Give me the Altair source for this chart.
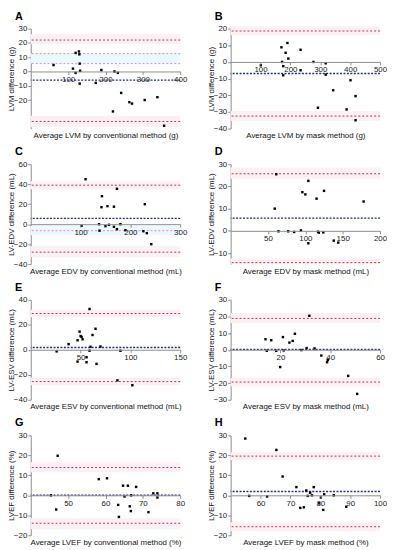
import altair as alt
import pandas as pd

W, H = 151, 101
FONT = "Liberation Sans"

# ---------------- data ----------------
letters = ["A", "B", "C", "D", "E", "F", "G", "H"]
x_titles = [
    "Average LVM by conventional method (g)",
    "Average LVM by mask method (g)",
    "Average EDV by conventional method (mL)",
    "Average EDV by mask method (mL)",
    "Average ESV by conventional method (mL)",
    "Average ESV by mask method (mL)",
    "Average LVEF by conventional method (%)",
    "Average LVEF by mask method (%)",
]
y_titles = [
    "LVM difference (g)", "LVM difference (g)",
    "LV-EDV difference (mL)", "LV-EDV difference (mL)",
    "LV-ESV difference (mL)", "LV-ESV difference (mL)",
    "LVEF difference (%)", "LVEF difference (%)",
]
x_domains = [[0, 400], [0, 500], [0, 300], [0, 200], [0, 150], [0, 60], [40, 80], [50, 100]]
y_domains = [[-40, 30], [-40, 20], [-40, 60], [-15, 30], [-40, 40], [-30, 30], [-20, 30], [-20, 30]]
x_ticks = [[100, 200, 300, 400], [100, 200, 300, 400, 500], [100, 200, 300], [50, 100, 150, 200],
           [50, 100, 150], [20, 40, 60], [50, 60, 70, 80], [60, 70, 80, 90, 100]]
y_ticks = [[30, 20, 10, 0, -10, -20], [20, 10, 0, -10, -20, -30, -40], [60, 40, 20, 0, -20, -40],
           [30, 20, 10, 0, -10], [40, 20, 0, -20, -40], [30, 20, 10, 0, -10, -20, -30],
           [30, 20, 10, 0, -10, -20], [30, 20, 10, 0, -10, -20]]

a_x = [61, 113, 120, 120, 129, 130, 131, 132, 131, 189, 174, 224, 233, 242, 220, 264, 271, 305, 339, 357]
a_y = [4.5, 2, 13, -1, 14, 12, 5.5, 0.5, -8.5, 1, -8, 0, -1, -15, -28, -21.5, -22.5, -20, -18, -38]
b_x = [101, 170, 190, 184, 193, 172, 176, 176, 234, 234, 277, 318, 318, 343, 292, 388, 401, 418, 418]
b_y = [-2, 8.8, 11.4, 5.5, 2, 0, -2.5, -8, 7.3, -5, 0, -0.8, -7.6, -17, -27.5, -28.5, -11, -20.5, -35]
c_x = [110, 102, 137, 138, 143, 142, 150, 154, 157, 167, 167, 173, 173, 180, 190, 229, 226, 233, 242]
c_y = [45, -1.5, 0, -6.5, 28, 17, -2, 18, -0.6, 17.5, -2.6, 35.4, -5, 0, -6, 20, -7, -9, -20]
d_x = [61, 59, 64, 77, 85, 94, 96, 100, 104, 104, 115, 117, 118, 124, 125, 138, 144, 178]
d_y = [25.5, 10, -0.2, -0.2, -0.5, 0.2, 17.4, 16.4, 22.5, -5.6, 14.5, -0.4, -0.8, -0.7, 18, -4.4, -5.3, 13.2]
e_x = [26, 38, 47, 49, 50, 51, 52, 47, 56, 56, 59, 60, 59, 62, 65, 66, 70, 90, 87, 102]
e_y = [-1.3, 4.5, 7.6, 14.5, 11, 10.3, 8.4, -9.5, -6, -10, 32.6, 2.4, -0.8, 11.8, 16.8, -11.3, 2.6, -0.8, -24.5, -28.4]
f_x = [14, 14.5, 16.3, 18.3, 19.9, 21, 21.3, 23.6, 24.9, 25.8, 28.4, 30.5, 31.6, 33.7, 36.4, 38.7, 39, 47.2, 50.8]
f_y = [6.3, -0.6, 5.7, -0.6, -10.4, 7.6, -0.4, 4.3, 5.3, 9.6, -0.2, 1, 20.4, 0.8, -3.5, -7.5, -6.1, -15.7, -26.5]
g_x = [45.4, 46.8, 47.2, 58.2, 60.4, 63.4, 63.6, 64.7, 65.1, 66, 66.5, 66.8, 66.9, 68.2, 71.5, 72.8, 73.9, 73.9]
g_y = [0, -7.1, 19.8, 8.1, 8.5, -4.8, -10.8, 4.8, -0.6, 4.8, -5.5, -7.9, 0, 4.2, -8.4, 1, 1, -1.1]
h_x = [54.9, 56.2, 62.2, 65.3, 67.4, 72, 73.3, 74.5, 75.3, 75.8, 76.6, 77.2, 77.8, 79.6, 80.2, 81, 81.3, 84.5, 88.7]
h_y = [28.4, -0.3, -0.6, 22.7, 9.4, 4.1, -6.3, -6, 2.4, -0.3, 1.3, 0, 4.1, -4, -1.1, -7.3, 0.5, 0, -5.7]

# limits of agreement (upper, lower) and mean difference
loa_upper = [22, 18.6, 39, 25.7, 29, 18.8, 13.9, 19.6]
loa_lower = [-35, -32.5, -28, -14.3, -25.5, -19.4, -14, -15.7]
mean_diff = [-6.1, -6.9, 5.8, 5.7, 1.8, 0.2, 0.1, 1.9]
# extra pink dotted lines (confidence limits)
ci_lines = [[12.5, 5.5], [], [-6.5], [], [], [], [], []]
# shaded confidence bands (low, high)
pink_bands = [[(19, 26), (-39, -31)], [(16, 21.5), (-35.5, -29.5)], [(35, 43), (-33, -22)],
              [(23.5, 28.5), (-15, -12.5)], [(26, 32), (-28.5, -22.5)], [(16, 22), (-22, -17)],
              [(11.5, 16.5), (-17, -11.5)], [(17.5, 21.5), (-18, -13.5)]]
cyan_bands = [[(5.5, 12.5)], [], [(-11, -1.5)], [], [], [], [], []]

all_x = [a_x, b_x, c_x, d_x, e_x, f_x, g_x, h_x]
all_y = [a_y, b_y, c_y, d_y, e_y, f_y, g_y, h_y]


def panel(i):
    ydom = y_domains[i]
    xdom = x_domains[i]
    ysc = alt.Scale(domain=ydom, nice=False, zero=False)
    xsc = alt.Scale(domain=xdom, nice=False, zero=False)
    zero_from_bottom = H * (0 - ydom[0]) / (ydom[1] - ydom[0])
    yax = alt.Axis(
        values=y_ticks[i], title=y_titles[i], titleX=-15, titleY=H / 2,
        titleAngle=-90, titleAlign="center", titleBaseline="bottom",
        tickSize=3, labelPadding=1, labelFlush=False, labelOverlap=False,
    )
    xax = alt.Axis(
        values=x_ticks[i], title=x_titles[i], offset=-zero_from_bottom,
        titleY=zero_from_bottom + 3, titleBaseline="top", zindex=1,
        tickSize=3, labelPadding=1, labelFlush=False, labelOverlap=False,
    )

    band_rows = [{"lo": lo, "hi": hi, "c": "#fdf0f5"} for lo, hi in pink_bands[i]]
    band_rows += [{"lo": lo, "hi": hi, "c": "#e9f9fc"} for lo, hi in cyan_bands[i]]
    bands = alt.Chart(pd.DataFrame(band_rows)).mark_rect().encode(
        y=alt.Y("lo:Q", scale=ysc, axis=yax),
        y2="hi:Q",
        x=alt.value(0), x2=alt.value(W),
        color=alt.Color("c:N", scale=None),
    )
    layers = [bands]
    if ci_lines[i]:
        layers.append(
            alt.Chart(pd.DataFrame({"v": ci_lines[i]})).mark_rule(
                color="#f070c8", strokeDash=[2, 2], strokeWidth=0.9
            ).encode(y=alt.Y("v:Q", scale=ysc, axis=yax))
        )
    layers.append(
        alt.Chart(pd.DataFrame({"v": [loa_upper[i], loa_lower[i]]})).mark_rule(
            color="#b23a4c", strokeDash=[2, 2], strokeWidth=1
        ).encode(y=alt.Y("v:Q", scale=ysc, axis=yax))
    )
    layers.append(
        alt.Chart(pd.DataFrame({"v": [mean_diff[i]]})).mark_rule(
            color="#1c2a8c", strokeDash=[2, 1.5], strokeWidth=1.4
        ).encode(y=alt.Y("v:Q", scale=ysc, axis=yax))
    )
    pts = pd.DataFrame({"x": all_x[i], "y": all_y[i]})
    layers.append(
        alt.Chart(pts).mark_square(size=6, color="black", opacity=1).encode(
            x=alt.X("x:Q", scale=xsc, axis=xax),
            y=alt.Y("y:Q", scale=ysc, axis=yax),
        )
    )
    return alt.layer(*layers).properties(
        width=W, height=H,
        title=alt.TitleParams(letters[i], anchor="start", dx=-16, fontSize=11,
                              fontWeight="bold", offset=3, frame="group", font=FONT,
                              color="#000"),
    )


chart = alt.concat(
    *[panel(i) for i in range(8)],
    columns=2,
    spacing={"row": 36, "column": 51},
    bounds="flush",
).properties(
    padding={"left": 0, "top": 0, "right": 0, "bottom": 0}
).configure_view(stroke=None).configure_axis(
    labelFont=FONT, labelFontSize=8, labelColor="#222",
    titleFont=FONT, titleFontSize=8, titleFontWeight="normal", titleColor="#111",
    domainColor="#8c8c8c", tickColor="#8c8c8c", grid=False,
)

chart.save("out.html", embed_options={"renderer": "svg", "actions": False})
